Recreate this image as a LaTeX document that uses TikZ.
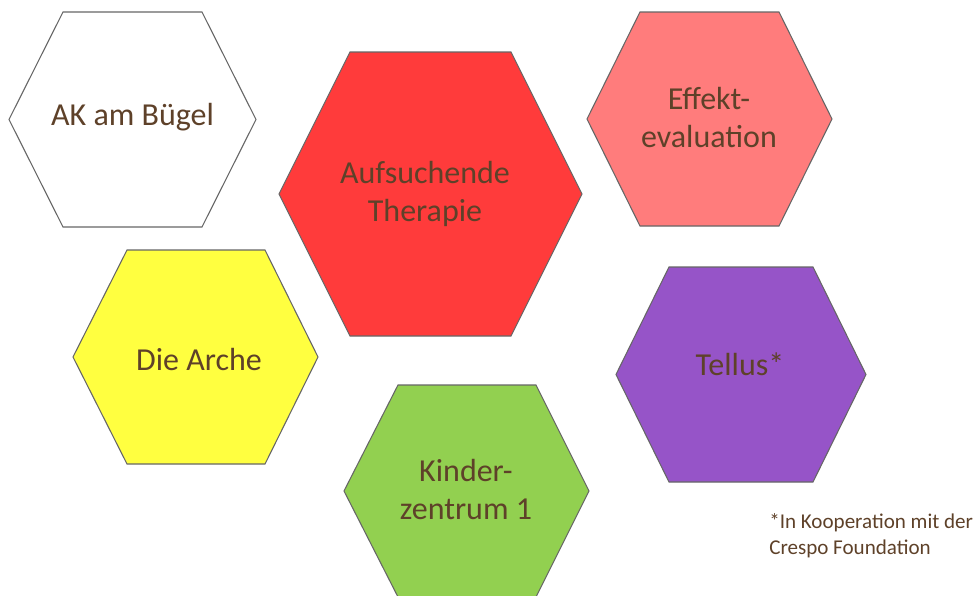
\documentclass[tikz,border=0pt]{standalone}
\usepackage{fontspec}
\setmainfont{Carlito}
\usepackage{tikz}
\usepackage{xcolor}
\usetikzlibrary{positioning}
\definecolor{textbrown}{HTML}{5E4129}
\definecolor{hexred}{HTML}{FF3B3B}
\definecolor{hexpink}{HTML}{FF7C7C}
\definecolor{hexyellow}{HTML}{FFFF40}
\definecolor{hexgreen}{HTML}{92D050}
\definecolor{hexpurple}{HTML}{9654C8}
\tikzset{hexline/.style={draw=black!60, line width=0.8pt, line join=miter}}
\tikzset{hextext/.style={text=textbrown, align=center, inner sep=0pt, font=\fontsize{24}{28.5}\selectfont}}
\tikzset{notetext/.style={text=textbrown, align=left, inner sep=0pt, font=\fontsize{15.8}{20}\selectfont}}

\begin{document}
\begin{tikzpicture}[x=0.75pt, y=-0.75pt]
    \useasboundingbox (0, 0) rectangle (976, 596);
    \clip (0, 0) rectangle (976, 596);

    \draw[hexline, fill=white]
    (9, 119.5) -- (63, 12) -- (202, 12) -- (256, 119.5) -- (202, 227) -- (63, 227) -- cycle;
    \draw[hexline, fill=hexred]
    (279, 194) -- (350, 52) -- (511, 52) -- (582, 194) -- (511, 336) -- (350, 336) -- cycle;
    \draw[hexline, fill=hexpink]
    (587, 119) -- (640, 12) -- (779, 12) -- (832, 119) -- (779, 226) -- (640, 226) -- cycle;
    \draw[hexline, fill=hexyellow]
    (73, 357) -- (127, 250) -- (265, 250) -- (318, 357) -- (265, 464) -- (127, 464) -- cycle;
    \draw[hexline, fill=hexpurple]
    (616, 374.5) -- (669, 267) -- (813, 267) -- (866, 374.5) -- (813, 482) -- (669, 482) -- cycle;
    \draw[hexline, fill=hexgreen]
    (344, 491) -- (398, 385) -- (536, 385) -- (589, 491) -- (536, 597) -- (398, 597) -- cycle;

    \node[hextext] (ak) at (132.5, 117) {AK am Bügel};
    \node[hextext] (therapie) at (425, 194) {Aufsuchende\\Therapie};
    \node[hextext] (effekt) at (709, 118) {Effekt-\\evaluation};
    \node[hextext] (arche) at (199, 359) {Die Arche};
    \node[hextext] (tellus) at (740, 364) {Tellus*};
    \node[hextext] (kinder) at (466, 490) {Kinder-\\zentrum 1};

    \node[notetext, anchor=north west] (note) at (769, 513) {*In Kooperation mit der\\Crespo Foundation};
\end{tikzpicture}
\end{document}
